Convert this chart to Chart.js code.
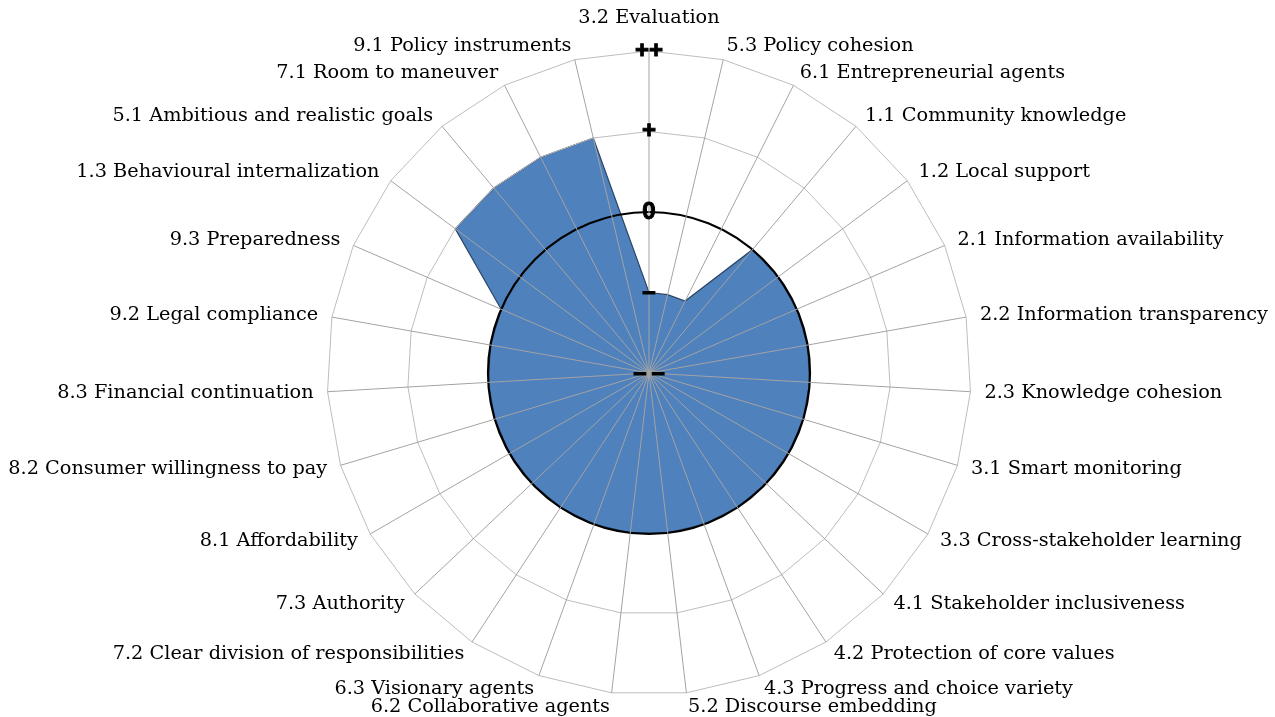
<!DOCTYPE html>
<html>
<head>
<meta charset="utf-8">
<script src="https://cdn.jsdelivr.net/npm/chart.js@4.4.1/dist/chart.umd.min.js"></script>
<style>
html, body { margin: 0; padding: 0; background: #fff; overflow: hidden; }
#wrap { width: 1275px; height: 717px; }
</style>
</head>
<body>
<div id="wrap"><canvas id="radar"></canvas></div>
<script>
// categories clockwise from the top
const categories = [
    '3.2 Evaluation', '5.3 Policy cohesion', '6.1 Entrepreneurial agents',
    '1.1 Community knowledge', '1.2 Local support', '2.1 Information availability',
    '2.2 Information transparency', '2.3 Knowledge cohesion', '3.1 Smart monitoring',
    '3.3 Cross-stakeholder learning', '4.1 Stakeholder inclusiveness', '4.2 Protection of core values',
    '4.3 Progress and choice variety', '5.2 Discourse embedding', '6.2 Collaborative agents',
    '6.3 Visionary agents', '7.2 Clear division of responsibilities', '7.3 Authority',
    '8.1 Affordability', '8.2 Consumer willingness to pay', '8.3 Financial continuation',
    '9.2 Legal compliance', '9.3 Preparedness', '1.3 Behavioural internalization',
    '5.1 Ambitious and realistic goals', '7.1 Room to maneuver', '9.1 Policy instruments'
];

// -2 = "--", -1 = "-", 0 = "0", 1 = "+", 2 = "++"
const scores = [
    -1, -1, -1,
    0, 0, 0, 0, 0, 0, 0, 0, 0, 0,
    0, 0, 0, 0, 0, 0, 0, 0, 0, 0,
    1, 1, 1, 1
];

const tickValues = [-2, -1, 0, 1, 2];
const tickLabels = ['\u2013\u2009\u2013', '\u2013', '0', '+', '++'];

// category names drawn Excel-style: beside the spoke end, left/right aligned
const categoryText = {
    id: 'categoryText',
    afterDraw(chart) {
        const scale = chart.scales.r;
        const c = chart.ctx;
        c.save();
        c.font = '19.3px "DejaVu Serif", serif';
        c.fillStyle = '#000';
        chart.data.labels.forEach((label, i) => {
            const deg = Math.round(scale.getIndexAngle(i) * 180 / Math.PI) % 360;
            if (deg === 0) {
                const p = scale.getPointPosition(i, scale.drawingArea + 23);
                c.textAlign = 'center';
                c.textBaseline = 'bottom';
                c.fillText(label, p.x, p.y);
                return;
            }
            const p = scale.getPointPosition(i, scale.drawingArea + 14);
            c.textAlign = deg < 180 ? 'left' : 'right';
            c.textBaseline = 'middle';
            c.fillText(label, p.x, p.y);
        });
        c.restore();
    }
};

const ctx = document.getElementById('radar').getContext('2d');
new Chart(ctx, {
    type: 'radar',
    data: {
        labels: categories,
        datasets: [{
            data: scores,
            backgroundColor: '#4f81bd',
            borderColor: '#2b4566',
            borderWidth: 1.2,
            pointRadius: 0,
            fill: 'start'
        }]
    },
    options: {
        responsive: true,
        maintainAspectRatio: false,
        animation: false,
        layout: { padding: { top: 39, bottom: 10, left: 23, right: 0 } },
        plugins: { legend: { display: false }, tooltip: { enabled: false } },
        scales: {
            r: {
                min: -2,
                max: 2,
                ticks: {
                    stepSize: 1,
                    z: 2,
                    showLabelBackdrop: false,
                    backdropPadding: 0,
                    color: '#000',
                    textStrokeColor: '#000',
                    textStrokeWidth: 1,
                    font: { family: '"Liberation Sans", Arial, sans-serif', size: 24, weight: 'bold' },
                    callback: v => tickLabels[tickValues.indexOf(v)]
                },
                grid: {
                    z: 1,
                    circular: c => !!(c.tick && c.tick.value === 0),
                    color: c => {
                        if (!c.tick) return '#c0c0c0';
                        if (c.tick.value === 0) return '#000';
                        if (c.tick.value < 0) return 'rgba(0,0,0,0)';
                        return '#bdbdbd';
                    },
                    lineWidth: c => (c.tick && c.tick.value === 0) ? 2.2 : 1
                },
                angleLines: { color: '#a3a3a3', lineWidth: 1 },
                pointLabels: { display: false }
            }
        }
    },
    plugins: [categoryText]
});
</script>
</body>
</html>
